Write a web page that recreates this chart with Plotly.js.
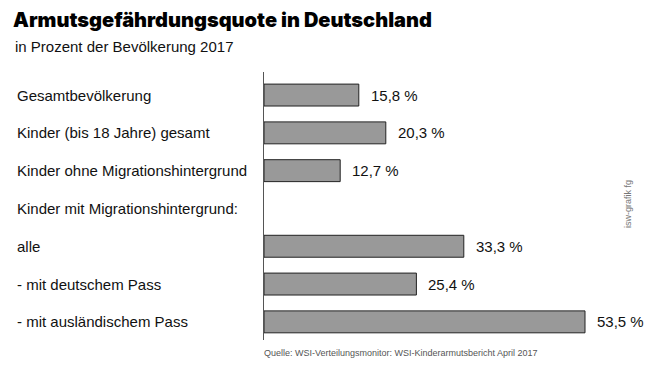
<!DOCTYPE html>
<html><head><meta charset="utf-8">
<script src="https://cdn.plot.ly/plotly-3.0.1.min.js"></script>
<style>html,body{margin:0;padding:0;background:#fff}</style>
</head><body><div id="chart" style="width:655px;height:366px"></div>
<script>
const categories = ["Gesamtbevölkerung","Kinder (bis 18 Jahre) gesamt","Kinder ohne Migrationshintergrund","Kinder mit Migrationshintergrund:","alle","- mit deutschem Pass","- mit ausländischem Pass"];
const values = [15.8, 20.3, 12.7, null, 33.3, 25.4, 53.5];
const valueLabels = ["15,8 %","20,3 %","12,7 %","","33,3 %","25,4 %","53,5 %"];
const titleText = "Armutsgefährdungsquote in Deutschland";
const subtitleText = "in Prozent der Bevölkerung 2017";
const sourceText = "Quelle: WSI-Verteilungsmonitor: WSI-Kinderarmutsbericht April 2017";
const creditText = "isw-grafik fg";

const font = "Liberation Sans, Arial, sans-serif";
const ann = [];
categories.forEach((c,i)=>{
  ann.push({xref:'paper',yref:'y',x:-0.692,y:i,xanchor:'left',yanchor:'middle',text:c,showarrow:false,font:{family:font,size:15,color:'#111'}});
  if(values[i]!=null) ann.push({xref:'x',yref:'y',x:values[i],y:i,xanchor:'left',yanchor:'middle',xshift:10,text:valueLabels[i],showarrow:false,font:{family:font,size:15,color:'#111'}});
});
ann.push({xref:'paper',yref:'paper',x:-0.703,y:1.194,xanchor:'left',yanchor:'middle',text:titleText,showarrow:false,font:{family:'Inter, Liberation Sans, sans-serif',size:20,weight:900,color:'#000'}});
ann.push({xref:'paper',yref:'paper',x:-0.698,y:1.097,xanchor:'left',yanchor:'middle',text:subtitleText,showarrow:false,font:{family:font,size:15,color:'#111'}});
ann.push({xref:'paper',yref:'paper',x:-0.006,y:-0.05,xanchor:'left',yanchor:'middle',text:sourceText,showarrow:false,font:{family:font,size:9,color:'#555'}});
ann.push({xref:'paper',yref:'paper',x:1.011,y:0.507,xanchor:'center',yanchor:'middle',text:creditText,textangle:-90,showarrow:false,font:{family:font,size:9,color:'#777'}});

Plotly.newPlot('chart',[{
  type:'bar',orientation:'h',x:values,y:categories.map((c,i)=>i),width:0.58,
  marker:{color:'#999999',line:{color:'#222',width:1}},hoverinfo:'none'
}],{
  width:655,height:366,margin:{l:264,r:31,t:72,b:26},
  paper_bgcolor:'#fff',plot_bgcolor:'#fff',showlegend:false,
  xaxis:{range:[0,60],showgrid:false,zeroline:false,showticklabels:false,showline:false,ticks:''},
  yaxis:{range:[6.48,-0.61],showgrid:false,zeroline:false,showticklabels:false,ticks:'',showline:true,linecolor:'#555',linewidth:1.5},
  annotations:ann
},{staticPlot:true});
</script></body></html>
